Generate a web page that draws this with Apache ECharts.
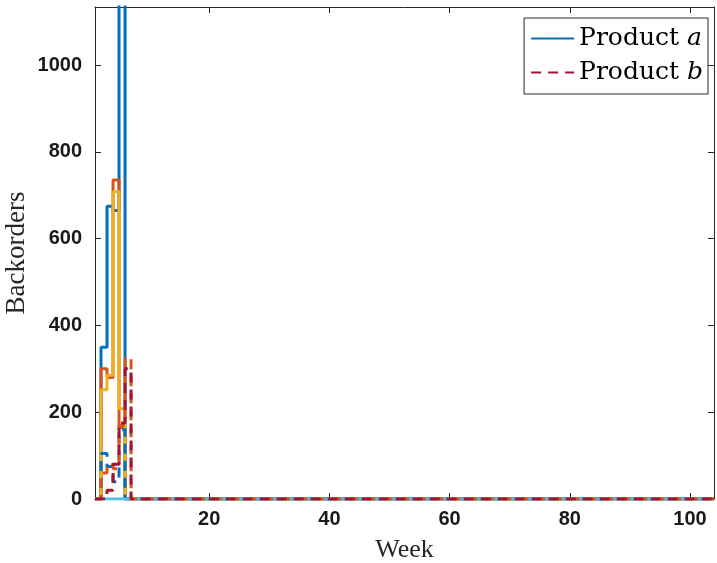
<!DOCTYPE html>
<html>
<head>
<meta charset="utf-8">
<script src="https://cdn.jsdelivr.net/npm/echarts@6/dist/echarts.min.js"></script>
<style>
html,body{margin:0;padding:0;background:#fff;}
#chart{width:717px;height:563px;}
</style>
</head>
<body>
<div id="chart"></div>
<script>
// weeks on x, backorders on y; each series is [week, backorders], all zero after the listed weeks
var xTicks = [20, 40, 60, 80, 100];
var yTicks = [0, 200, 400, 600, 800, 1000];

var aBlue   = [[1,0],[2,350],[3,675],[4,665],[5,1200],[6,0],[104,0]];
var aOrange = [[1,0],[2,300],[3,280],[4,735],[5,165],[6,0],[104,0]];
var aYellow = [[1,0],[2,252],[3,285],[4,708],[5,208],[6,0],[104,0]];
var aLight  = [[1,0],[104,0]];
var bBlue   = [[1,0],[2,105],[3,75],[4,40],[5,160],[6,0],[104,0]];
var bOrange = [[1,0],[2,60],[3,80],[4,70],[5,170],[6,325],[7,0],[104,0]];
var bRed    = [[1,0],[2,0],[3,20],[4,80],[5,175],[6,300],[7,0],[104,0]];

var frame = '#262626';

function stairs(name, data, color, dashed){
    return {
        name: name,
        type: 'line',
        step: 'end',
        data: data,
        symbol: 'none',
        animation: false,
        lineStyle: {
            color: color,
            width: 3,
            type: dashed ? [10, 7] : 'solid'
        },
        itemStyle: {color: color}
    };
}

var myChart = echarts.init(document.getElementById('chart'));
var option = {
    animation: false,
    grid: {left: 95, right: 3, top: 7, bottom: 64, outerBoundsMode: 'none'},
    legend: {
        data: ['Product a', 'Product b'],
        orient: 'vertical',
        right: 9,
        top: 18,
        itemWidth: 43,
        itemHeight: 16,
        itemGap: 9,
        padding: [8, 5, 9, 6],
        borderColor: frame,
        borderWidth: 1,
        backgroundColor: '#fff',
        selectedMode: false,
        itemStyle: {opacity: 0},
        formatter: function(name){
            return '{t|Product }{i|' + name.slice(-1) + '}';
        },
        textStyle: {
            rich: {
                t: {fontFamily: 'DejaVu Serif', fontSize: 25, color: '#000'},
                i: {fontFamily: 'DejaVu Serif', fontStyle: 'italic', fontSize: 25, color: '#000'}
            }
        }
    },
    xAxis: [{
        type: 'value',
        min: 1,
        max: 104,
        name: 'Week',
        nameLocation: 'middle',
        nameGap: 38,
        nameMoveOverlap: false,
        nameTextStyle: {fontFamily: 'Liberation Serif', fontSize: 26, color: frame},
        axisLine: {show: true, lineStyle: {color: frame, width: 1}},
        axisTick: {inside: true, length: 6, customValues: xTicks, lineStyle: {color: frame}},
        axisLabel: {customValues: xTicks, margin: 10, fontFamily: 'Liberation Sans', fontWeight: 'bold', fontSize: 20, color: '#1a1a1a'},
        splitLine: {show: false}
    }, {
        type: 'value',
        position: 'top',
        min: 1,
        max: 104,
        axisLine: {show: true, onZero: false, lineStyle: {color: frame, width: 1}},
        axisTick: {inside: true, length: 6, customValues: xTicks, lineStyle: {color: frame}},
        axisLabel: {show: false},
        splitLine: {show: false}
    }],
    yAxis: [{
        type: 'value',
        min: 0,
        max: 1134,
        name: 'Backorders',
        nameLocation: 'middle',
        nameGap: 65,
        nameMoveOverlap: false,
        nameTextStyle: {fontFamily: 'Liberation Serif', fontSize: 27, color: frame},
        axisLine: {show: true, lineStyle: {color: frame, width: 1}},
        axisTick: {inside: true, length: 6, customValues: yTicks, lineStyle: {color: frame}},
        axisLabel: {
            customValues: yTicks, margin: 13,
            formatter: function(v){ return String(v); },
            fontFamily: 'Liberation Sans', fontWeight: 'bold', fontSize: 20, color: '#1a1a1a'
        },
        splitLine: {show: false}
    }, {
        type: 'value',
        position: 'right',
        min: 0,
        max: 1134,
        axisLine: {show: true, onZero: false, lineStyle: {color: frame, width: 1}},
        axisTick: {inside: true, length: 6, customValues: yTicks, lineStyle: {color: frame}},
        axisLabel: {show: false},
        splitLine: {show: false}
    }],
    series: [
        stairs('Product a', aBlue, '#0072BD', false),
        stairs('a2', aOrange, '#D95319', false),
        stairs('a3', aYellow, '#EDB120', false),
        stairs('b1', bBlue, '#0072BD', true),
        stairs('a4', aLight, '#4DBEEE', false),
        stairs('b2', bOrange, '#D95319', true),
        stairs('Product b', bRed, '#A2142F', true)
    ]
};
myChart.setOption(option);
</script>
</body>
</html>
